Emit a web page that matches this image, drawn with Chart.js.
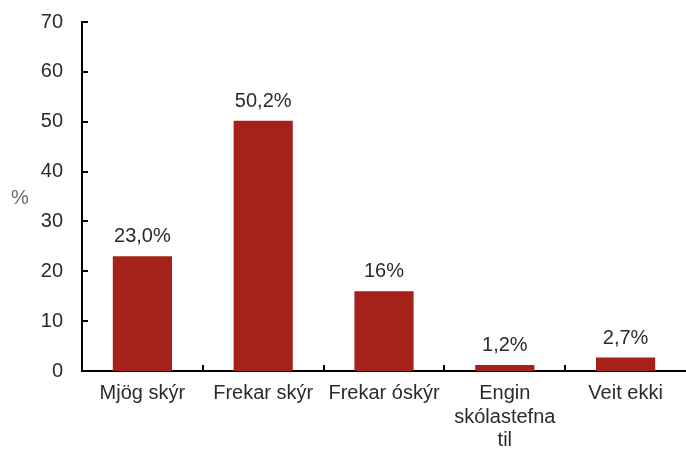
<!DOCTYPE html>
<html><head><meta charset="utf-8">
<script src="https://cdn.jsdelivr.net/npm/chart.js@4.4.0/dist/chart.umd.min.js"></script>
<style>html,body{margin:0;padding:0;background:#fff;overflow:hidden}#wrap{width:686px;height:450px}</style>
</head><body><div id="wrap"><canvas id="c" width="686" height="450"></canvas></div>
<script>
const categories = ["Mjög skýr", "Frekar skýr", "Frekar óskýr", ["Engin", "skólastefna", "til"], "Veit ekki"];
const values = [23.0, 50.2, 16, 1.2, 2.7];
const valueLabels = ["23,0%", "50,2%", "16%", "1,2%", "2,7%"];
const yTicks = [0, 10, 20, 30, 40, 50, 60, 70];

const FONT = "'Liberation Sans', Arial, sans-serif";
const TEXT = "#2b2b2b";

const extras = {
  id: 'extras',
  afterDraw(chart) {
    const ctx = chart.ctx, x = chart.scales.x, y = chart.scales.y;
    const area = chart.chartArea;
    ctx.save();
    ctx.strokeStyle = '#000'; ctx.lineWidth = 2;
    yTicks.forEach(v => {
      const py = Math.round(y.getPixelForValue(v));
      ctx.beginPath(); ctx.moveTo(area.left, py); ctx.lineTo(area.left + 6, py); ctx.stroke();
    });
    const n = categories.length;
    for (let i = 1; i < n; i++) {
      const px = Math.round(x.getPixelForValue(i - 0.5));
      ctx.beginPath(); ctx.moveTo(px, area.bottom); ctx.lineTo(px, area.bottom - 6); ctx.stroke();
    }
    ctx.fillStyle = TEXT; ctx.font = "20px " + FONT;
    ctx.textAlign = 'center'; ctx.textBaseline = 'alphabetic';
    const meta = chart.getDatasetMeta(0);
    meta.data.forEach((bar, i) => {
      ctx.fillText(valueLabels[i], bar.x, bar.y - 14);
    });
    ctx.fillStyle = '#6a6a6a';
    ctx.textAlign = 'center'; ctx.textBaseline = 'middle';
    ctx.fillText('%', 20, (area.top + area.bottom) / 2 + 2);
    ctx.restore();
  }
};

new Chart(document.getElementById('c'), {
  type: 'bar',
  data: { labels: categories, datasets: [{ data: values, backgroundColor: '#A5221A', barPercentage: 0.49, categoryPercentage: 1 }] },
  options: {
    responsive: false, animation: false,
    layout: { padding: { top: 22, right: 0, left: 0, bottom: 0 } },
    plugins: { legend: { display: false }, tooltip: { enabled: false } },
    scales: {
      x: {
        grid: { display: false, drawTicks: false },
        border: { color: '#000', width: 2 },
        ticks: { color: TEXT, font: { family: FONT, size: 20, lineHeight: 1.17 }, padding: 11, maxRotation: 0, autoSkip: false },
        afterFit(s) { s.height = 79; s.paddingLeft = 0; s.paddingRight = 0; }
      },
      y: {
        min: 0, max: 70,
        grid: { display: false, drawTicks: false },
        border: { color: '#000', width: 2 },
        ticks: { stepSize: 10, color: TEXT, font: { family: FONT, size: 20 }, padding: 19 },
        afterFit(s) { s.width = 82; s.paddingTop = 0; s.paddingBottom = 0; }
      }
    }
  },
  plugins: [extras]
});
</script></body></html>
